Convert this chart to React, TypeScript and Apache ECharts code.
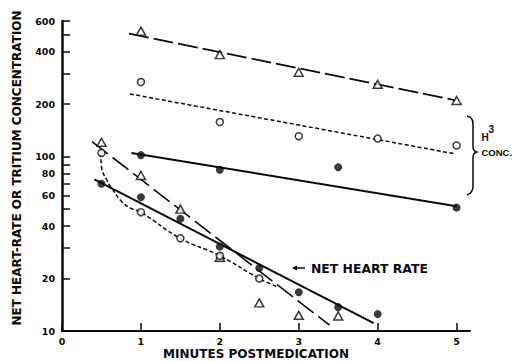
import React, { useEffect, useRef } from "react";
import * as echarts from "echarts";

// Axis ticks and labels
const xTicks = [0, 1, 2, 3, 4, 5];
const yTicks = [10, 20, 30, 40, 50, 60, 70, 80, 90, 100, 200, 300, 400, 500, 600];
const yLabels = [10, 20, 40, 60, 80, 100, 200, 400, 600];

// H3 concentration group (upper three sets)
const concTriangles = [[1, 525], [2, 385], [3, 305], [4, 260], [5, 210]];
const concOpen = [[1, 268], [2, 158], [3, 131], [4, 127], [5, 116]];
const concFilled = [[1, 102], [2, 84], [3.5, 87], [5, 51]];
const concTriangleFit = [[0.85, 508], [5, 210]];
const concOpenFit = [[0.86, 229], [4.97, 104]];
const concFilledFit = [[0.88, 105], [5, 52]];

// Net heart rate group (lower three sets)
const rateTriangles = [[0.5, 121], [1, 78], [1.5, 50], [2, 26.5], [2.5, 14.5], [3, 12.3], [3.5, 12.2]];
const rateOpen = [[0.5, 105], [1, 48], [1.5, 34], [2, 27], [2.5, 20]];
const rateFilled = [[0.5, 70], [1, 58.5], [1.5, 44], [2, 30.5], [2.5, 23], [3, 16.7], [3.5, 13.7], [4, 12.5]];
const rateTriangleFit = [[0.38, 122], [3.39, 10.8]];
const rateOpenFit = [[0.49, 105], [0.5, 88], [0.57, 73], [0.65, 64], [0.76, 55], [0.87, 50.6], [1, 48], [1.5, 34], [2, 27], [2.5, 20], [2.72, 18]];
const rateFilledFit = [[0.41, 74], [3.95, 11.1]];

const FONT = '"DejaVu Sans", sans-serif';
const NARROW = '"Liberation Sans Narrow", "Liberation Sans", sans-serif';
const INK = "#0a0a0a";

// curly brace grouping the concentration curves
echarts.graphic.registerShape(
  "brace",
  echarts.graphic.extendPath(
    "M467 116 Q473 117 473 124 L473 146 Q473 151 476.5 152 Q473 153 473 158 L473 186 Q473 193 467 195",
    {}
  )
);

const fitLine = (data: number[][], type: any, width: number, smooth = false) => ({
  type: "line",
  data,
  symbol: "none",
  showSymbol: false,
  smooth,
  silent: true,
  lineStyle: { color: INK, width, type },
  z: 2,
});

const openTri = (data: number[][]) => ({
  type: "scatter",
  data,
  symbol: "triangle",
  symbolSize: [9, 8],
  itemStyle: { color: "#fff", borderColor: INK, borderWidth: 1.5 },
  silent: true,
  z: 3,
});

const openDot = (data: number[][]) => ({
  type: "scatter",
  data,
  symbol: "circle",
  symbolSize: 7,
  itemStyle: { color: "#fff", borderColor: INK, borderWidth: 1.5 },
  silent: true,
  z: 3,
});

const solidDot = (data: number[][]) => ({
  type: "scatter",
  data,
  symbol: "circle",
  symbolSize: 8,
  itemStyle: { color: INK },
  silent: true,
  z: 3,
});

const labelStyle = {
  color: INK,
  fontFamily: FONT,
  fontWeight: "bold",
  fontSize: 9.5,
};

const textEl = (text: string, x: number, y: number, size: number, extra: any = {}, family = FONT) => ({
  type: "text",
  x,
  y,
  ...extra,
  style: {
    text,
    fill: INK,
    fontFamily: family,
    fontWeight: "bold",
    fontSize: size,
    align: extra.align || "left",
    textAlign: extra.align || "left",
    verticalAlign: "middle",
    textVerticalAlign: "middle",
  },
});

const option: any = {
  animation: false,
  backgroundColor: "#fff",
  grid: { left: 62, right: 47, top: 21, bottom: 30, outerBoundsMode: "none" },
  xAxis: {
    type: "value",
    min: 0,
    max: 5.17,
    axisLine: { show: true, onZero: false, lineStyle: { color: INK, width: 2 } },
    axisTick: { show: true, inside: true, length: 8, customValues: xTicks, lineStyle: { color: INK, width: 1.5 } },
    axisLabel: { ...labelStyle, customValues: xTicks, margin: 5 },
    splitLine: { show: false },
  },
  yAxis: {
    type: "log",
    logBase: 10,
    min: 10,
    max: 600,
    axisLine: { show: true, lineStyle: { color: INK, width: 2.5 } },
    axisTick: { show: true, inside: true, length: 8, customValues: yTicks, lineStyle: { color: INK, width: 1.5 } },
    axisLabel: { ...labelStyle, customValues: yLabels, margin: 7 },
    splitLine: { show: false },
    minorTick: { show: false },
  },
  series: [
    fitLine(concTriangleFit, [20, 5], 1.6),
    fitLine(concOpenFit, [4, 2.5], 1.5),
    fitLine(concFilledFit, "solid", 2),
    fitLine(rateTriangleFit, [20, 6], 1.6),
    fitLine(rateOpenFit, [4, 2.5], 1.5, true),
    fitLine(rateFilledFit, "solid", 2),
    openTri(concTriangles),
    openDot(concOpen),
    solidDot(concFilled),
    openTri(rateTriangles),
    openDot(rateOpen),
    solidDot(rateFilled),
  ],
  graphic: [
    {
      type: "brace",
      x: 0,
      y: 0,
      silent: true,
      style: { stroke: INK, fill: "none", lineWidth: 1.5 },
    },
    textEl("H", 481.5, 137, 10, {}, NARROW),
    textEl("3", 488.5, 129, 10, {}, NARROW),
    textEl("CONC.", 481.5, 152.5, 9.5, {}, NARROW),
    {
      type: "line",
      silent: true,
      shape: { x1: 295, y1: 268, x2: 305, y2: 268 },
      style: { stroke: INK, lineWidth: 1.5 },
    },
    {
      type: "polygon",
      silent: true,
      shape: { points: [[292, 268], [297, 265.5], [297, 270.5]] },
      style: { fill: INK },
    },
    textEl("NET HEART RATE", 311, 268, 12.4),
    textEl("MINUTES POSTMEDICATION", 256, 354, 12, { align: "center" }),
    textEl("NET HEART-RATE OR TRITIUM CONCENTRATION", 17, 168, 12, { align: "center", rotation: Math.PI / 2 }),
  ],
};

export default function App() {
  const ref = useRef<HTMLDivElement>(null);
  useEffect(() => {
    if (!ref.current) return;
    const chart = echarts.init(ref.current, null, { renderer: "svg" });
    chart.setOption(option);
    return () => chart.dispose();
  }, []);
  return (
    <div
      ref={ref}
      style={{ position: "fixed", left: 0, top: 0, width: 517, height: 361, background: "#fff" }}
    />
  );
}
